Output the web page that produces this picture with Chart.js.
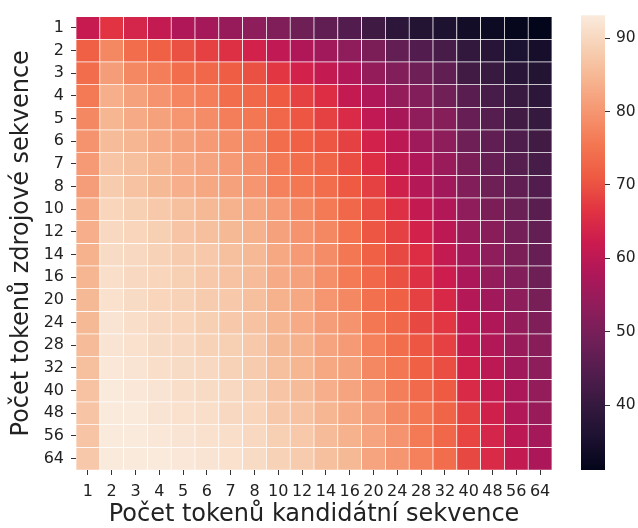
<!DOCTYPE html>
<html>
<head>
<meta charset="utf-8">
<script src="https://cdn.jsdelivr.net/npm/chart.js@4.4.0/dist/chart.umd.min.js"></script>
<style>
  html, body { margin: 0; padding: 0; background: #fff; }
  #wrap { position: relative; width: 638px; height: 528px; }
  #heat { position: absolute; left: 0; top: 0; }
  #bar { position: absolute; left: 560px; top: 0; }
</style>
</head>
<body>
<div id="wrap">
  <canvas id="heat" width="638" height="528"></canvas>
  <canvas id="bar" width="78" height="528"></canvas>
</div>
<script>
// token counts (columns = candidate sequence, rows = source sequence)
const xLabels = ['1','2','3','4','5','6','7','8','10','12','14','16','20','24','28','32','40','48','56','64'];
const yLabels = ['1','2','3','4','5','6','7','8','10','12','14','16','20','24','28','32','40','48','56','64'];

// one row per source token count
const values = [
  [61.5, 66.5, 64, 61, 58, 56.5, 54.5, 53, 51, 48.5, 46.5, 44.5, 41.5, 38.5, 37, 36, 34, 33, 31.8, 31.2],
  [72, 78, 74, 72, 70, 68, 66, 63.5, 60.5, 58, 56, 53.5, 50.5, 47, 44.5, 43, 39.5, 37.5, 35.5, 34.5],
  [74, 81, 78, 76.5, 74, 73, 71.5, 70, 67, 63.5, 61, 58.5, 54, 51.5, 48.5, 46.5, 42, 40.5, 38, 37],
  [76, 83.5, 81.5, 79.5, 77.5, 76.5, 74, 73, 71, 68, 65.5, 61, 58, 54, 51.5, 49, 45.5, 43, 40.5, 38.5],
  [78, 84.5, 83, 81.5, 80, 78.5, 76.5, 75.5, 73, 70.5, 68, 65, 60.5, 57, 53.5, 52, 47.5, 45, 42, 40],
  [79.5, 85.5, 84.5, 83, 81.5, 80.5, 79, 77.5, 74, 72, 70.5, 68, 63.5, 60, 55.5, 53, 48.5, 46.5, 44, 42],
  [80.5, 87, 86, 84.5, 83, 82, 80.5, 79, 76, 74, 72.5, 69.5, 65.5, 61, 58, 55, 50.5, 47.5, 45, 43],
  [81, 88, 86.5, 85, 83.5, 82.5, 81.5, 80, 77, 75.5, 74, 71, 68, 63, 59, 56, 51.5, 48.5, 46.5, 44.5],
  [83, 89.5, 88.5, 87.5, 86, 85, 84, 82.5, 80.5, 78, 76, 73, 69.5, 66, 61, 58.5, 53.5, 50.5, 48, 45.5],
  [83.5, 90, 89.5, 88.5, 87, 86, 85, 84, 81.5, 79.5, 78, 75, 70.5, 68, 63.5, 60, 55, 52.5, 49.5, 47],
  [84, 90.5, 90, 89, 88, 87.5, 86, 85, 82.5, 80.5, 78.5, 75.5, 72, 69, 65.5, 61, 56.5, 53.5, 50.5, 47.5],
  [84.5, 91, 90, 89.5, 88.5, 87.5, 86.5, 85.5, 83, 81.5, 79, 76, 73, 70, 66, 62.5, 57.5, 54, 51.5, 48.5],
  [85, 91.5, 90.5, 89.5, 89, 88, 87.5, 86, 84, 82.5, 80, 78, 74.5, 72, 68, 64.5, 59, 56, 53, 50],
  [85, 92, 91, 90, 89.5, 88.5, 87.5, 86.5, 84.5, 83, 81, 79.5, 75.5, 73, 69, 67, 60.5, 58, 54, 51],
  [85.5, 92, 91.5, 90.5, 90, 89, 88.5, 87.5, 85, 84, 82, 80.5, 77, 74, 70.5, 68, 61, 58.5, 55, 52.5],
  [86, 92.5, 92, 91, 90.5, 90, 89, 88, 86, 84.5, 82.5, 81.5, 78, 75.5, 72, 69.5, 63, 60, 56, 53],
  [86.5, 93, 92.5, 92, 91, 90.5, 90, 89, 87, 85.5, 83.5, 82, 79.5, 76.5, 73.5, 71, 65, 61, 57.5, 54],
  [87, 93, 93, 92, 91.5, 91, 90, 89.5, 87.5, 86.5, 84.5, 83, 81, 78, 75.5, 72.5, 68, 63, 58.5, 55],
  [87, 93, 93, 92.5, 92, 91.5, 91, 90, 88.5, 87.5, 85.5, 84, 82, 79.5, 76, 73, 68.5, 64, 60, 56.5],
  [87.5, 93, 93, 93, 92.5, 92, 91.5, 90.5, 89, 88, 86, 85, 82, 80, 77, 74, 69, 65, 61, 57.5]
];

const vMin = 31.2;
const vMax = 93.1;
const cbTicks = [40, 50, 60, 70, 80, 90];

// rocket colormap stops
const rocketStops = [
  [0.000, '#03051A'], [0.071, '#1C1130'], [0.143, '#35193E'], [0.214, '#521D4E'],
  [0.286, '#701F57'], [0.357, '#8F1D5B'], [0.429, '#AD1759'], [0.500, '#CB1B4F'],
  [0.571, '#E13342'], [0.643, '#EE5A42'], [0.714, '#F37651'], [0.786, '#F59570'],
  [0.857, '#F6B48F'], [0.929, '#F7D0B4'], [1.000, '#FAEBDD']
];

function hexRgb(h){
  return [parseInt(h.slice(1,3),16), parseInt(h.slice(3,5),16), parseInt(h.slice(5,7),16)];
}

function rocket(v){
  let t = (v - vMin) / (vMax - vMin);
  t = Math.max(0, Math.min(1, t));
  for(let i=1; i < rocketStops.length; i++){
    if(t <= rocketStops[i][0]){
      const a = rocketStops[i-1], b = rocketStops[i];
      const f = (t - a[0]) / (b[0] - a[0]);
      const ca = hexRgb(a[1]), cb = hexRgb(b[1]);
      const c = ca.map((x, k) => Math.round(x + (cb[k] - x) * f));
      return 'rgb(' + c.join(',') + ')';
    }
  }
  return rocketStops[rocketStops.length-1][1];
}

Chart.defaults.font.family = "'DejaVu Sans', sans-serif";
Chart.defaults.color = '#222';

const textColor = '#222';
const tickColor = '#333';

// heatmap: one stacked bar dataset per row
const rows = yLabels.map((lab, r) => ({
  label: lab,
  data: xLabels.map(() => 1),
  backgroundColor: values[r].map(rocket),
  borderColor: '#fff',
  borderWidth: 0.7,
  borderSkipped: false,
  barPercentage: 1,
  categoryPercentage: 1,
  stack: 'grid'
}));

new Chart(document.getElementById('heat'), {
  type: 'bar',
  data: { labels: xLabels, datasets: rows },
  options: {
    responsive: false,
    animation: false,
    layout: { padding: { left: 0, top: 16, right: 86, bottom: 0 } },
    plugins: { legend: { display: false }, tooltip: { enabled: false } },
    scales: {
      x: {
        stacked: true,
        afterFit: (s) => { s.height = 58; },
        grid: { offset: false, drawOnChartArea: false, tickLength: 5, color: tickColor },
        border: { display: false },
        ticks: { autoSkip: false, maxRotation: 0, padding: 7, color: textColor, font: { size: 16 } },
        title: {
          display: true,
          text: 'Počet tokenů kandidátní sekvence',
          color: textColor,
          font: { size: 24 },
          padding: { top: 0, bottom: -1 }
        }
      },
      y: {
        stacked: true,
        reverse: true,
        min: 0,
        max: yLabels.length,
        afterFit: (s) => { s.width = 76; },
        afterBuildTicks: (axis) => { axis.ticks = yLabels.map((_, i) => ({ value: i + 0.5 })); },
        grid: { drawOnChartArea: false, tickLength: 5, color: tickColor },
        border: { display: false },
        ticks: {
          padding: 7,
          color: textColor,
          font: { size: 16 },
          callback: (v, i) => yLabels[i]
        },
        title: {
          display: true,
          text: 'Počet tokenů zdrojové sekvence',
          color: textColor,
          font: { size: 24 },
          padding: { top: 7, bottom: 0 }
        }
      }
    }
  }
});

// colour bar
function barFill(ctx){
  const area = ctx.chart.chartArea;
  if(!area) return null;
  const g = ctx.chart.ctx.createLinearGradient(0, area.bottom, 0, area.top);
  rocketStops.forEach(s => g.addColorStop(s[0], s[1]));
  return g;
}

new Chart(document.getElementById('bar'), {
  type: 'bar',
  data: {
    labels: [''],
    datasets: [{
      data: [[vMin, vMax]],
      backgroundColor: barFill,
      borderWidth: 0,
      barPercentage: 1,
      categoryPercentage: 1
    }]
  },
  options: {
    responsive: false,
    animation: false,
    layout: { padding: { left: 21, top: 15, right: 0, bottom: 58 } },
    plugins: { legend: { display: false }, tooltip: { enabled: false } },
    scales: {
      x: { display: false },
      y: {
        position: 'right',
        min: vMin,
        max: vMax,
        afterFit: (s) => { s.width = 33; },
        afterBuildTicks: (axis) => { axis.ticks = cbTicks.map(v => ({ value: v })); },
        grid: { drawOnChartArea: false, tickLength: 5, color: tickColor },
        border: { display: false },
        ticks: { padding: 6, color: textColor, font: { size: 15.5 } }
      }
    }
  }
});
</script>
</body>
</html>
